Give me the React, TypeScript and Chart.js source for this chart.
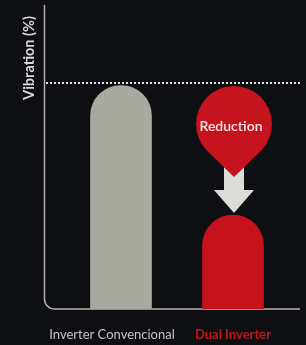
import React, { useEffect, useRef } from "react";
import { Chart, registerables } from "chart.js";

Chart.register(...registerables);

const categories = ["Inverter Convencional", "Dual Inverter"];
const vibrationValues = [100, 42];
const referenceValue = 100;
const yAxisMax = 136;
const axisTitle = "Vibration (%)";
const markerText = "Reduction";
const barColors = ["#a8aaa0", "#c5121b"];
const labelColors = ["#c6c7c1", "#c0141c"];

const BG = "#0d0f13";

const decorPlugin = {
  id: "decor",
  beforeDraw(chart: any) {
    const { ctx, width, height } = chart;
    ctx.save();
    ctx.fillStyle = BG;
    ctx.fillRect(0, 0, width, height);
    ctx.restore();
  },
  beforeDatasetsDraw(chart: any) {
    const { ctx, chartArea, scales } = chart;
    const y = scales.y;
    const bottom = y.getPixelForValue(0);
    const left = chartArea.left - 20.5;
    const right = chart.width - 6;
    const r = 10;
    ctx.save();
    ctx.strokeStyle = "#b4b5b0";
    ctx.lineWidth = 1.5;
    ctx.beginPath();
    ctx.moveTo(left, chartArea.top);
    ctx.lineTo(left, bottom - r);
    ctx.arcTo(left, bottom, left + r, bottom, r);
    ctx.lineTo(right, bottom);
    ctx.stroke();

    // y axis title
    ctx.translate(29, 58);
    ctx.rotate(-Math.PI / 2);
    ctx.fillStyle = "#d8d8d4";
    ctx.font = "bold 14.5px Lato";
    ctx.textAlign = "center";
    ctx.textBaseline = "middle";
    ctx.fillText(axisTitle, 0, 0);
    ctx.restore();
  },
  afterDatasetsDraw(chart: any) {
    const { ctx, chartArea, scales } = chart;
    const x = scales.x;
    const y = scales.y;
    const refY = y.getPixelForValue(referenceValue) - 2.5;
    ctx.save();
    // dotted reference line
    ctx.strokeStyle = "#e6e6e6";
    ctx.lineWidth = 2;
    ctx.setLineDash([2, 2]);
    ctx.beginPath();
    ctx.moveTo(chartArea.left - 19, refY);
    ctx.lineTo(chart.width - 6, refY);
    ctx.stroke();
    ctx.setLineDash([]);

    // marker over second bar
    const cx = x.getPixelForValue(1) + 1;
    const barTop = y.getPixelForValue(vibrationValues[1]);
    const r = 38;
    const cy = refY + 41;
    const tipY = cy + 53;

    // arrow
    const arrowTip = barTop - 2;
    const headTop = arrowTip - 23;
    ctx.fillStyle = "#dcdcd8";
    ctx.beginPath();
    ctx.moveTo(cx - 10, tipY - 12);
    ctx.lineTo(cx + 10, tipY - 12);
    ctx.lineTo(cx + 10, headTop);
    ctx.lineTo(cx + 20, headTop);
    ctx.lineTo(cx, arrowTip);
    ctx.lineTo(cx - 20, headTop);
    ctx.lineTo(cx - 10, headTop);
    ctx.closePath();
    ctx.fill();

    // teardrop
    const d = tipY - cy;
    const a = Math.acos(r / d);
    ctx.fillStyle = "#c5141d";
    ctx.beginPath();
    ctx.moveTo(cx, tipY);
    ctx.arc(cx, cy, r, Math.PI / 2 + a, Math.PI / 2 - a + Math.PI * 2, false);
    ctx.closePath();
    ctx.fill();

    ctx.fillStyle = "#f6e6e4";
    ctx.font = "600 14px Lato";
    ctx.textAlign = "center";
    ctx.textBaseline = "middle";
    ctx.fillText(markerText, cx - 3, cy + 3);

    // category labels
    const labelY = 335;
    ctx.font = "13px Lato";
    ctx.fillStyle = labelColors[0];
    ctx.fillText(categories[0], x.getPixelForValue(0) - 9, labelY);
    ctx.font = "bold 13px Lato";
    ctx.fillStyle = labelColors[1];
    ctx.fillText(categories[1], x.getPixelForValue(1), labelY);
    ctx.restore();
  },
};

export default function App() {
  const ref = useRef<HTMLCanvasElement>(null);
  useEffect(() => {
    document.body.style.margin = "0";
    document.body.style.background = BG;
    const chart = new Chart(ref.current as HTMLCanvasElement, {
      type: "bar",
      data: {
        labels: categories,
        datasets: [
          {
            data: vibrationValues,
            backgroundColor: barColors,
            borderWidth: 0,
            borderRadius: { topLeft: 31, topRight: 31, bottomLeft: 0, bottomRight: 0 },
            borderSkipped: false,
            barThickness: 61,
          },
        ],
      },
      options: {
        animation: false,
        responsive: false,
        devicePixelRatio: 1,
        layout: { padding: { left: 65, right: 17, top: 5, bottom: 36 } },
        plugins: { legend: { display: false }, tooltip: { enabled: false } },
        scales: {
          x: { display: false },
          y: { display: false, min: 0, max: yAxisMax },
        },
      },
      plugins: [decorPlugin],
    });
    return () => chart.destroy();
  }, []);
  return (
    <div style={{ width: 306, height: 345, background: BG }}>
      <canvas ref={ref} width={306} height={345} />
    </div>
  );
}
